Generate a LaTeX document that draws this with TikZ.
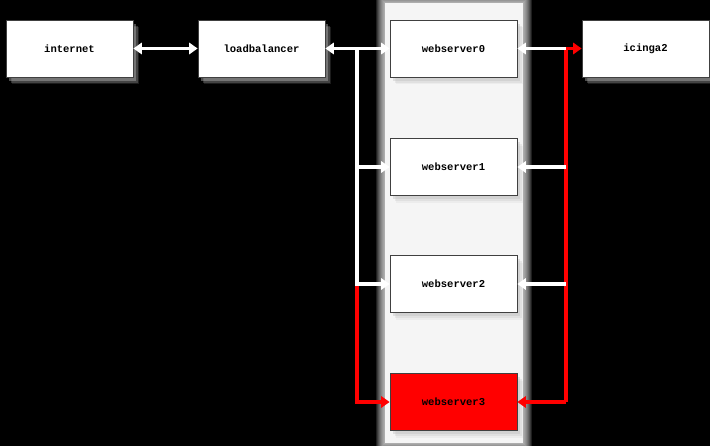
\documentclass[tikz,border=0pt]{standalone}
\usepackage{fontspec}
\newfontfamily\hostfont{Liberation Mono}
\usetikzlibrary{arrows.meta,shadows}

\begin{document}
\begin{tikzpicture}[x=0.025cm,y=-0.025cm]
    \tikzstyle{every node}+=[inner sep=0pt]
    \tikzstyle{host}=[draw=black!75, line width=0.5pt, fill=white,
        minimum width=3.175cm, minimum height=1.425cm,
        font=\hostfont\bfseries\fontsize{7.5}{9}\selectfont,
        drop shadow={shadow xshift=4.5pt, shadow yshift=-5pt, fill=gray!50, opacity=0.15},
        drop shadow={shadow xshift=3.5pt, shadow yshift=-4pt, fill=gray!50, opacity=0.25},
        drop shadow={shadow xshift=2pt, shadow yshift=-2.5pt, fill=gray!50, opacity=0.4}]
    \tikzstyle{wire}=[white, line width=2.5pt, arrows={-Triangle[width=8pt,length=6pt]}]
    \tikzstyle{alert}=[red, line width=2.2pt, arrows={-Triangle[width=8pt,length=6pt]}]

    % background
    \fill [black] (0,0) rectangle (710,446);
    \useasboundingbox (0,0) rectangle (710,446);

    % webserver cluster column, soft edges
    \foreach \d in {9,8,...,1}
        \fill [white, opacity=0.12] (385-\d,3-\d) rectangle (523+\d,443+\d);
    \fill [black!4] (385,3) rectangle (523,443);

    % hosts
    \node [host] (internet) at (69.5,48.5) {internet};
    \node [host] (lb) at (261.5,48.5) {loadbalancer};
    \node [host] (ws0) at (453.5,48.5) {webserver0};
    \node [host] (icinga) at (645.5,48.5) {icinga2};
    \node [host] (ws1) at (453.5,167) {webserver1};
    \node [host] (ws2) at (453.5,284) {webserver2};
    \node [host, fill=red] (ws3) at (453.5,402) {webserver3};

    % loadbalancer side
    \coordinate (lbtop) at (357,48.5);
    \coordinate (lbbot) at (357,284);
    \draw [alert] (lbbot) |- (ws3);
    \draw [wire, arrows={Triangle[width=8pt,length=6pt]-Triangle[width=8pt,length=6pt]}] (internet) -- (lb);
    \draw [wire, arrows={Triangle[width=8pt,length=6pt]-Triangle[width=8pt,length=6pt]}] (lb) -- (ws0);
    \draw [wire, arrows=-, line cap=rect] (lbtop) -- (lbbot);
    \draw [wire] (lbtop |- ws1) -- (ws1);
    \draw [wire] (lbbot) -- (ws2);

    % monitoring side
    \coordinate (montop) at (566,48.5);
    \coordinate (monbot) at (566,402);
    \draw [alert, arrows=-] (montop) -- (monbot);
    \draw [alert] (montop) -- (icinga);
    \draw [alert] (monbot) -- (ws3);
    \draw [wire] (montop) -- (ws0);
    \draw [wire] (montop |- ws1) -- (ws1);
    \draw [wire] (montop |- ws2) -- (ws2);
\end{tikzpicture}
\end{document}
